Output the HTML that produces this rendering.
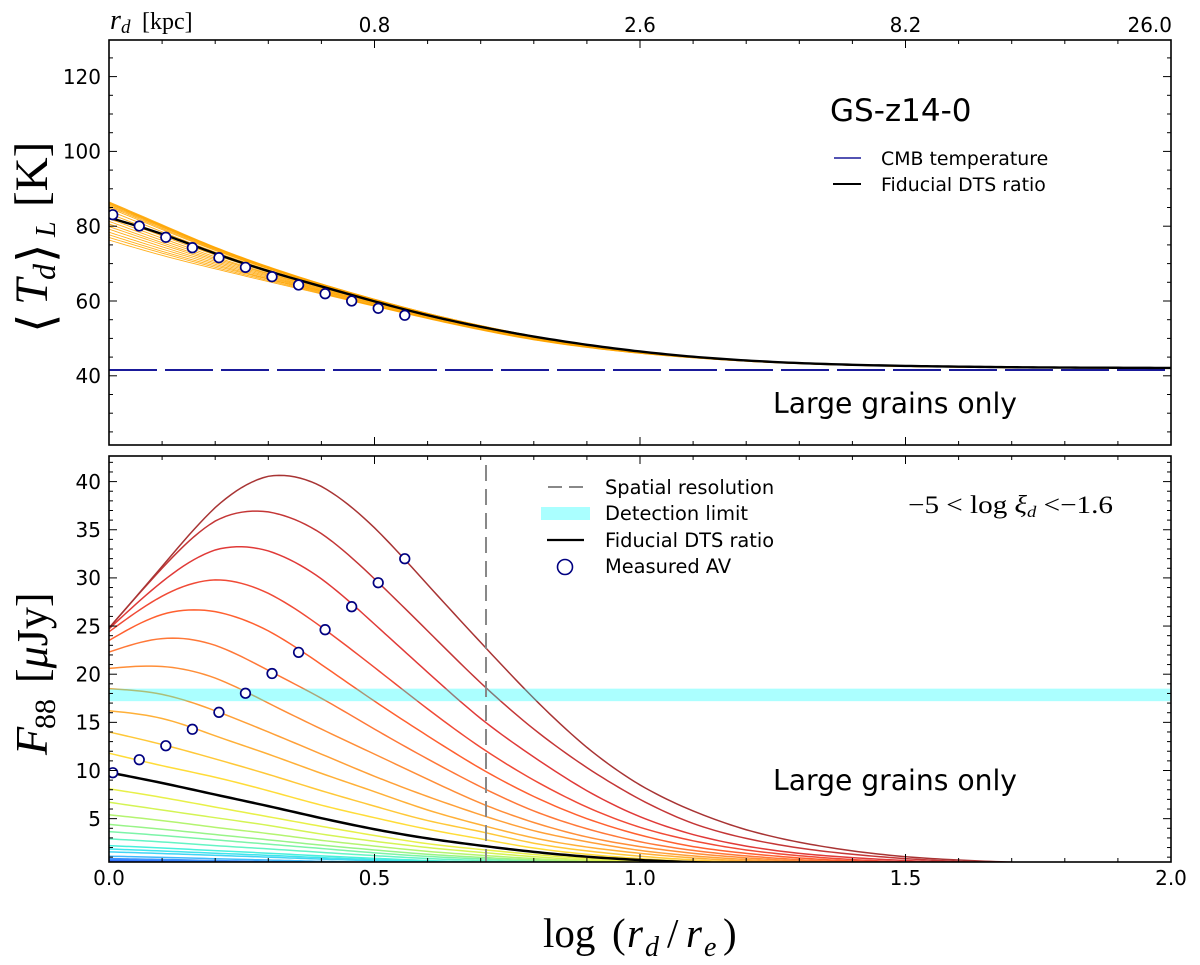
<!DOCTYPE html>
<html>
<head>
<meta charset="utf-8">
<title>GS-z14-0 dust temperature and flux</title>
<style>
html,body{margin:0;padding:0;background:#fff;width:1200px;height:965px;overflow:hidden}
svg{display:block}
text{font-family:"DejaVu Sans",sans-serif;fill:#000}
.math{font-family:"Liberation Serif",serif}
.it{font-style:italic}
</style>
</head>
<body>
<svg id="chart" xmlns="http://www.w3.org/2000/svg" width="1200" height="965" viewBox="0 0 1200 965">
<defs>
<clipPath id="clipTop"><rect x="109" y="40" width="1062" height="405"/></clipPath>
<clipPath id="clipBot"><rect x="109" y="456" width="1062" height="406"/></clipPath>
</defs>
<g id="topLines" clip-path="url(#clipTop)"></g>
<g id="botLines" clip-path="url(#clipBot)"></g>
<g id="axes"></g>

<text x="830" y="121" font-size="31">GS-z14-0</text>
<line x1="834" x2="861" y1="158" y2="158" stroke="#1a1a9a" stroke-width="1.6"/>
<text x="881" y="165" font-size="18.9">CMB temperature</text>
<line x1="833" x2="861" y1="184" y2="184" stroke="#000" stroke-width="2"/>
<text x="881" y="191" font-size="18.9">Fiducial DTS ratio</text>
<text x="773" y="413" font-size="28.2">Large grains only</text>
<text x="773" y="790" font-size="28.2">Large grains only</text>

<line x1="548" x2="584" y1="487" y2="487" stroke="#888" stroke-width="2" stroke-dasharray="14 7"/>
<text x="605" y="494" font-size="19.4">Spatial resolution</text>
<rect x="541" y="507" width="49" height="13" fill="#aaffff"/>
<text x="605" y="520" font-size="19.4">Detection limit</text>
<line x1="547" x2="584" y1="540" y2="540" stroke="#000" stroke-width="2.2"/>
<text x="605" y="547" font-size="19.4">Fiducial DTS ratio</text>
<circle cx="565" cy="567" r="7.5" fill="#fff" stroke="#000080" stroke-width="1.6"/>
<text x="605" y="573" font-size="19.4">Measured AV</text>

<text class="math" x="908" y="513" font-size="25" textLength="205" lengthAdjust="spacingAndGlyphs">&#8722;5 &lt; log <tspan class="it">&#958;</tspan><tspan class="it" font-size="16" dy="4">d</tspan><tspan dy="-4"> &lt;&#8722;1.6</tspan></text>

<g>
<text class="math it" x="110" y="29" font-size="28">r</text>
<text class="math it" x="121" y="33" font-size="19">d</text>
<text class="math" x="142" y="29" font-size="24">[kpc]</text>
</g>

<g transform="translate(47,320) rotate(-90)">
<text x="-13" y="6" font-size="50" style="font-family:'DejaVu Sans',sans-serif">&#10216;</text>
<text x="15" y="0" font-size="47" class="math it">T</text>
<text x="40" y="8" font-size="32" class="math it">d</text>
<text x="57" y="6" font-size="50" style="font-family:'DejaVu Sans',sans-serif">&#10217;</text>
<text x="83" y="8" font-size="28" class="math it">L</text>
<text x="113" y="0" font-size="47" class="math">[K]</text>
</g>
<g transform="translate(47,755) rotate(-90)">
<text x="0" y="0" font-size="46" class="math it">F</text>
<text x="26" y="8" font-size="30" class="math">88</text>
<text x="72" y="0" font-size="44" class="math">[<tspan class="it">&#956;</tspan>Jy]</text>
</g>
<g>
<text class="math" x="543" y="947" font-size="41">log</text>
<text class="math" x="612" y="947" font-size="41">(</text>
<text class="math it" x="627" y="947" font-size="41">r</text>
<text class="math it" x="645" y="956" font-size="28">d</text>
<text class="math" x="667" y="947" font-size="41">/</text>
<text class="math it" x="686" y="947" font-size="41">r</text>
<text class="math it" x="704" y="956" font-size="28">e</text>
<text class="math" x="723" y="947" font-size="41">)</text>
</g>
</svg>
<script>
// ---------- Data ----------
const tempGridX = [0, 0.1, 0.2, 0.3, 0.4, 0.5, 0.6, 0.8, 1.0, 1.2, 1.5, 2.0];
const tempHatchSeries = [
 [76.3,72.2,68.6,65.2,61.9,58.6,55.3,49.6,46.0,43.9,42.5,42.0],
 [77.0,72.8,69.0,65.5,62.1,58.7,55.4,49.7,46.0,43.9,42.5,42.0],
 [77.7,73.3,69.4,65.8,62.3,58.8,55.5,49.7,46.1,43.9,42.5,42.0],
 [78.4,73.9,69.8,66.0,62.5,59.0,55.6,49.8,46.1,43.9,42.5,42.0],
 [79.2,74.5,70.2,66.3,62.7,59.2,55.7,49.9,46.2,44.0,42.6,42.0],
 [79.9,75.1,70.6,66.6,62.8,59.3,55.9,50.0,46.2,44.0,42.6,42.0],
 [80.6,75.6,71.0,66.9,63.0,59.5,56.0,50.1,46.3,44.0,42.6,42.0],
 [81.3,76.2,71.4,67.2,63.2,59.6,56.1,50.2,46.3,44.0,42.6,42.0],
 [82.0,76.8,71.8,67.4,63.4,59.8,56.2,50.3,46.4,44.1,42.6,42.0],
 [82.7,77.4,72.3,67.7,63.6,59.9,56.3,50.3,46.4,44.1,42.6,42.0],
 [83.4,77.9,72.7,68.0,63.8,60.0,56.4,50.4,46.4,44.1,42.6,42.0],
 [84.2,78.5,73.1,68.3,64.0,60.1,56.4,50.4,46.5,44.1,42.6,42.0],
 [84.9,79.1,73.5,68.6,64.2,60.2,56.5,50.5,46.5,44.1,42.6,42.1],
 [85.3,79.4,73.7,68.7,64.3,60.3,56.6,50.5,46.5,44.1,42.6,42.1],
 [85.6,79.7,73.9,68.8,64.4,60.4,56.6,50.5,46.5,44.1,42.6,42.1],
 [85.9,79.9,74.05,68.95,64.45,60.4,56.6,50.55,46.5,44.1,42.6,42.1],
 [86.1,80.1,74.2,69.0,64.5,60.4,56.7,50.6,46.5,44.1,42.65,42.1],
 [86.3,80.2,74.3,69.1,64.55,60.45,56.7,50.6,46.5,44.1,42.65,42.1],
 [86.5,80.4,74.4,69.2,64.6,60.5,56.7,50.6,46.5,44.1,42.65,42.1]
];
const tempFiducialX = [0,0.1,0.2,0.3,0.4,0.5,0.6,0.7,0.8,0.9,1.0,1.1,1.2,1.3,1.4,1.5,1.6,1.7,1.8,1.9,2.0];
const tempFiducial = [82.3,77.9,72.7,68.0,63.9,59.9,56.2,53.1,50.5,48.3,46.5,45.1,44.1,43.4,42.95,42.65,42.45,42.3,42.2,42.15,42.1];
const cmbTemperature = [41.55, 41.55];
const cmbX = [0, 2];

const measuredX = [0.007,0.057,0.107,0.157,0.207,0.257,0.307,0.357,0.407,0.457,0.507,0.557];
const measuredT = [83.07,80.05,77.03,74.25,71.58,69.0,66.5,64.28,61.95,60.0,58.05,56.18];
const measuredF = [9.77,11.12,12.57,14.28,16.04,18.02,20.07,22.27,24.62,27.01,29.5,31.99];

const fluxGridX = [0,0.1,0.2,0.3,0.4,0.5,0.6,0.7,0.8,0.9,1.0,1.1,1.2,1.3,1.4,1.5,1.6,1.7];
const fluxSeries = [
 [24.8,31.2,37.3,40.55,39.5,35.2,29.3,23.3,17.5,12.4,8.5,5.8,3.85,2.55,1.65,1.05,0.7,0.48],
 [24.8,31.0,35.9,36.85,34.6,29.9,24.5,19.1,14.3,10.3,7.0,4.5,2.95,1.95,1.3,0.85,0.55,0.38],
 [24.7,29.6,32.9,32.8,29.9,25.2,20.2,15.4,11.4,7.9,5.2,3.35,2.15,1.4,0.95,0.65,0.43,0.3],
 [24.4,28.1,29.8,28.4,24.9,20.7,16.4,12.4,9.0,6.2,4.1,2.7,1.75,1.15,0.75,0.5,0.33,0.22],
 [23.5,26.2,26.5,24.5,21.0,17.2,13.6,10.2,7.3,5.0,3.3,2.1,1.4,0.92,0.6,0.4,0.26,0.17],
 [22.3,23.7,23.0,20.4,17.5,14.3,11.2,8.3,5.8,3.95,2.6,1.7,1.13,0.74,0.48,0.32,0.2,0.13],
 [20.6,20.8,19.6,17.0,14.3,11.7,9.1,6.6,4.6,3.1,2.1,1.4,0.93,0.6,0.4,0.26,0.16,0.1],
 [18.5,17.9,16.2,14.0,11.7,9.4,7.3,5.4,3.75,2.6,1.7,1.13,0.75,0.48,0.32,0.2,0.12,0.08],
 [16.2,15.4,13.6,11.7,9.7,7.8,5.9,4.35,3.0,2.05,1.4,0.92,0.6,0.38,0.25,0.16,0.1,0.06],
 [14.0,12.7,11.2,9.6,7.9,6.3,4.8,3.65,2.45,1.65,1.1,0.72,0.47,0.3,0.2,0.13,0.08,0.05],
 [11.8,10.5,9.3,7.9,6.4,5.1,3.9,2.9,1.95,1.3,0.85,0.56,0.37,0.24,0.15,0.1,0.06,0.04],
 [8.1,7.2,6.2,5.2,4.2,3.25,2.4,1.8,1.28,0.87,0.58,0.4,0.27,0.17,0.11,0.07,0.04,0.02],
 [6.7,5.9,5.1,4.3,3.4,2.65,2.0,1.5,1.05,0.71,0.47,0.33,0.22,0.14,0.09,0.06,0.03,0.02],
 [5.4,4.8,4.1,3.45,2.75,2.15,1.6,1.2,0.85,0.58,0.38,0.26,0.18,0.11,0.07,0.05,0.03,0.01],
 [4.4,3.9,3.35,2.8,2.25,1.75,1.3,0.98,0.7,0.47,0.31,0.22,0.15,0.09,0.06,0.04,0.02,0.01],
 [3.65,3.25,2.8,2.35,1.9,1.45,1.08,0.82,0.58,0.39,0.26,0.18,0.12,0.08,0.05,0.03,0.02,0.01],
 [2.9,2.58,2.2,1.86,1.5,1.16,0.86,0.65,0.46,0.31,0.21,0.14,0.1,0.06,0.04,0.03,0.01,0.01],
 [2.2,1.95,1.68,1.41,1.13,0.88,0.65,0.49,0.35,0.24,0.16,0.11,0.07,0.05,0.03,0.02,0.01,0.01],
 [1.85,1.64,1.41,1.19,0.95,0.74,0.55,0.41,0.29,0.2,0.13,0.09,0.06,0.04,0.03,0.02,0.01,0.01],
 [1.55,1.38,1.19,1.0,0.8,0.62,0.46,0.35,0.25,0.17,0.11,0.08,0.05,0.03,0.02,0.01,0.01,0.0],
 [1.1,0.98,0.84,0.7,0.57,0.44,0.33,0.25,0.17,0.12,0.08,0.05,0.04,0.02,0.01,0.01,0.0,0.0],
 [0.85,0.76,0.65,0.55,0.44,0.34,0.25,0.19,0.13,0.09,0.06,0.04,0.03,0.02,0.01,0.01,0.0,0.0],
 [0.72,0.64,0.55,0.46,0.37,0.29,0.21,0.16,0.11,0.08,0.05,0.03,0.02,0.01,0.01,0.0,0.0,0.0],
 [0.62,0.55,0.47,0.4,0.32,0.25,0.18,0.14,0.1,0.07,0.04,0.03,0.02,0.01,0.01,0.0,0.0,0.0]
];
const fluxFiducialX = [0,0.1,0.2,0.3,0.4,0.5,0.6,0.7,0.8,0.9,1.0,1.1,1.2];
const fluxFiducial = [9.8,8.7,7.5,6.3,5.05,3.9,2.95,2.2,1.55,1.05,0.7,0.48,0.32];
const detectionLimit = [17.2, 18.5];
const resolutionX = [0.71];

const xTickValues = [0,0.5,1.0,1.5,2.0];
const xTickLabels = ["0.0","0.5","1.0","1.5","2.0"];
const topTickLabels = ["0.8","2.6","8.2","26.0"];
const tempTickValues = [40,60,80,100,120];
const fluxTickValues = [5,10,15,20,25,30,35,40];

// ---------- Styles ----------
const fluxColors = ["#a83434","#c43636","#e03a38","#f04a36","#ff6030","#ff7838","#ff8e38","#ffa038","#ffb038","#ffc838","#ffdc38",
 "#e8f048","#d4f454","#b4f470","#98f488","#7cf4a8","#64f4c4","#48f0dc","#40e4ec","#40d4f4","#40b8fc","#3c90ff","#3478ff","#2c60ff"];

// ---------- Axis functions ----------
const xS = v => 109 + (v - 0) * 531;
const yTop = v => 301 - (v - 60) * 3.74;
const yBot = v => 481.6 - (v - 40) * 9.63;

const NS = "http://www.w3.org/2000/svg";
function mk(tag, attrs, parent){
  const el = document.createElementNS(NS, tag);
  for (const k in attrs) el.setAttribute(k, attrs[k]);
  parent.appendChild(el);
  return el;
}
// natural cubic spline through the read-off values
function curvePath(gx, gy, yFn){
  const n = gx.length, M = new Array(n).fill(0), c = new Array(n).fill(0), e = new Array(n).fill(0);
  for (let i = 1; i < n-1; i++){
    const h0 = gx[i]-gx[i-1], h1 = gx[i+1]-gx[i];
    const p = h0*c[i-1] + 2*(h0+h1);
    c[i] = h1/p;
    e[i] = (6*((gy[i+1]-gy[i])/h1 - (gy[i]-gy[i-1])/h0) - h0*e[i-1])/p;
  }
  for (let i = n-2; i > 0; i--) M[i] = e[i] - c[i]*M[i+1];
  let d = "";
  for (let i = 0; i < n-1; i++){
    const h = gx[i+1]-gx[i];
    const steps = Math.max(4, Math.round(h*100));
    for (let s = (i===0?0:1); s <= steps; s++){
      const t = s/steps, a = 1-t;
      const v = a*gy[i] + t*gy[i+1] + ((a*a*a-a)*M[i] + (t*t*t-t)*M[i+1])*h*h/6;
      const x = gx[i] + t*h;
      d += (d ? "L" : "M") + xS(x).toFixed(2) + " " + yFn(v).toFixed(2);
    }
  }
  return d;
}

const topG = document.getElementById("topLines");
const botG = document.getElementById("botLines");
const axG = document.getElementById("axes");

// ---------- Top panel ----------
tempHatchSeries.forEach((row) => {
  const p = mk("path", {d: curvePath(tempGridX, row, yTop), fill:"none", stroke:"#ffa500", "stroke-width":"0.9", "stroke-opacity":"0.9"}, topG);
  
  
});
const cmb = mk("line", {x1:xS(cmbX[0]), x2:xS(cmbX[1]), y1:yTop(cmbTemperature[0]), y2:yTop(cmbTemperature[1]), stroke:"#1a1a9a", "stroke-width":"2", "stroke-dasharray":"48 8"}, topG);


const tf = mk("path", {d: curvePath(tempFiducialX, tempFiducial, yTop), fill:"none", stroke:"#000", "stroke-width":"2.4"}, topG);


measuredX.forEach((x, i) => {
  const c = mk("circle", {cx:xS(x), cy:yTop(measuredT[i]), r:"4.8", fill:"#fff", stroke:"#000080", "stroke-width":"1.7"}, topG);
  
  
});

// ---------- Bottom panel ----------
fluxSeries.slice().reverse().forEach((row, i) => {
  const col = fluxColors[fluxSeries.length - 1 - i];
  const p = mk("path", {d: curvePath(fluxGridX, row, yBot), fill:"none", stroke:col, "stroke-width":"1.5"}, botG);
  
  
});
const ff = mk("path", {d: curvePath(fluxFiducialX, fluxFiducial, yBot), fill:"none", stroke:"#000", "stroke-width":"2.5"}, botG);


const band = mk("rect", {x:109, width:1062, y:yBot(detectionLimit[1]), height:yBot(detectionLimit[0])-yBot(detectionLimit[1]), fill:"#00ffff", "fill-opacity":"0.33"}, botG);


const res = mk("line", {x1:xS(resolutionX[0]), x2:xS(resolutionX[0]), y1:465, y2:862, stroke:"#888", "stroke-width":"2", "stroke-dasharray":"16 8"}, botG);


measuredX.forEach((x, i) => {
  const c = mk("circle", {cx:xS(x), cy:yBot(measuredF[i]), r:"4.8", fill:"#fff", stroke:"#000080", "stroke-width":"1.7"}, botG);
  
  
});

// ---------- Axes ----------
function tick(x1,y1,x2,y2,w){
  const t = mk("line", {x1,y1,x2,y2,stroke:"#000","stroke-width":w}, axG);
  
  
}
function panel(top, bottom, yFn, majors, minorStep, yMin, yMax){
  const f = mk("rect", {x:109,y:top,width:1062,height:bottom-top,fill:"none",stroke:"#000","stroke-width":"1.6"}, axG);
  
  
  for (let k = 0; k <= 20; k++){
    const v = k/10, major = k % 5 === 0, L = major ? 8 : 4;
    if (k === 0 || k === 20) continue;
    tick(xS(v),top,xS(v),top+L,"1");
    tick(xS(v),bottom,xS(v),bottom-L,"1");
  }
  for (let v = Math.ceil(yMin/minorStep)*minorStep; v < yMax; v += minorStep){
    const major = majors.indexOf(v) >= 0, L = major ? 8 : 4, y = yFn(v);
    tick(109,y,109+L,y,"1");
    tick(1171,y,1171-L,y,"1");
  }
  majors.forEach(v => {
    const t = mk("text", {x:101,y:yFn(v)+7.3,"font-size":"20","text-anchor":"end"}, axG);
    t.textContent = v;
    
    
  });
}
panel(40, 445, yTop, tempTickValues, 5, 21.5, 129.8);
panel(456, 862, yBot, fluxTickValues, 1, 0.5, 42.65);
xTickValues.forEach((v,i) => {
  const t = mk("text", {x:xS(v),y:885,"font-size":"20","text-anchor":"middle"}, axG);
  t.textContent = xTickLabels[i];
  
  
});
xTickValues.slice(1).forEach((v,i) => {
  const last = i === topTickLabels.length - 1;
  const t = mk("text", {x:last ? 1172 : xS(v),y:32,"font-size":"20","text-anchor":last ? "end" : "middle"}, axG);
  t.textContent = topTickLabels[i];
  
  
});
</script>
</body>
</html>
